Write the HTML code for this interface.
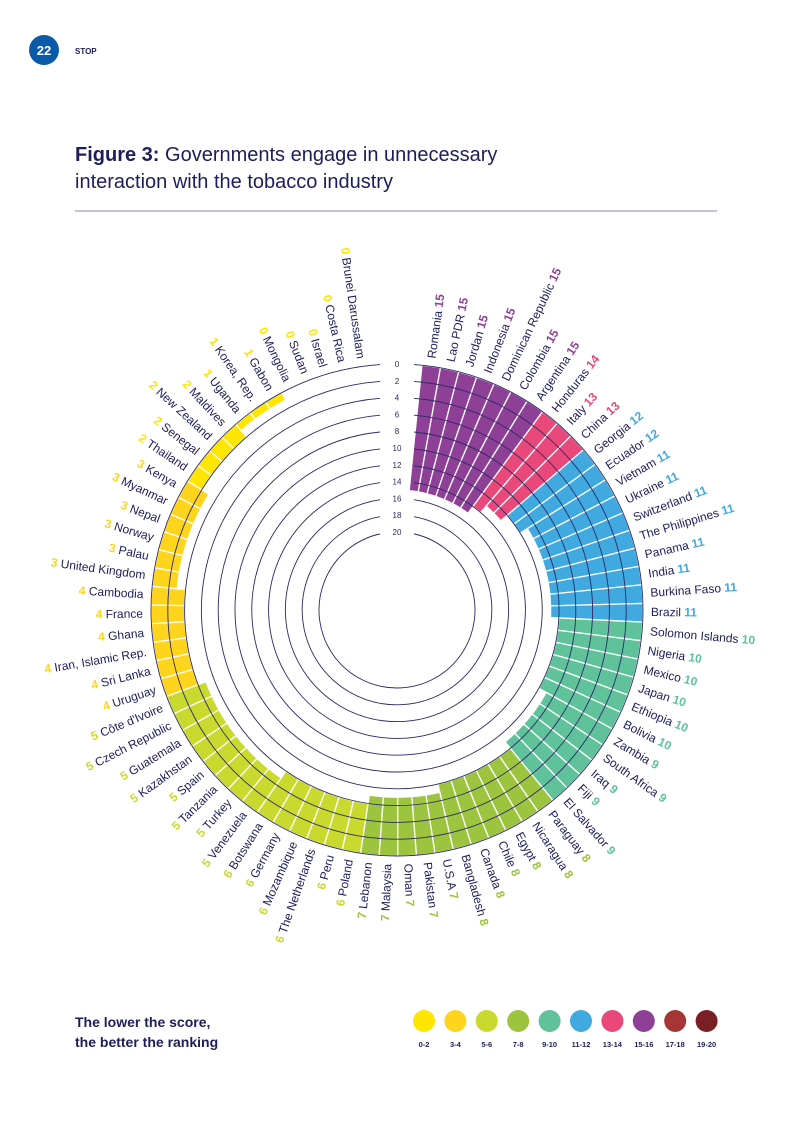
<!DOCTYPE html>
<html><head><meta charset="utf-8">
<style>
body{margin:0;background:#fff;}
svg{display:block;font-family:"Liberation Sans",sans-serif;}
</style></head>
<body>
<svg id="chart" width="793" height="1122" viewBox="0 0 793 1122">
<circle cx="44" cy="50" r="15" fill="#0b5aa8"/>
<text x="44" y="55" text-anchor="middle" fill="#fff" font-weight="bold" font-size="13">22</text>
<text x="75" y="54" fill="#1d1d5b" font-weight="bold" font-size="8">STOP</text>
<text x="75" y="161" fill="#1d1d5b" font-size="20"><tspan font-weight="bold">Figure 3:</tspan> Governments engage in unnecessary</text>
<text x="75" y="188" fill="#1d1d5b" font-size="20">interaction with the tobacco industry</text>
<line x1="75" y1="211" x2="717" y2="211" stroke="#8a88a8" stroke-width="1"/>
<g id="grid"></g><g id="bars"></g><g id="gridTop"></g><g id="labels"></g><g id="ticks"></g>
<text x="75" y="1027" fill="#1d1d5b" font-weight="bold" font-size="14">The lower the score,</text>
<text x="75" y="1047" fill="#1d1d5b" font-weight="bold" font-size="14">the better the ranking</text>
<g id="legend"></g>
</svg>
<script>
const countries=["Romania","Lao PDR","Jordan","Indonesia","Dominican Republic","Colombia","Argentina","Honduras","Italy","China","Georgia","Ecuador","Vietnam","Ukraine","Switzerland","The Philippines","Panama","India","Burkina Faso","Brazil","Solomon Islands","Nigeria","Mexico","Japan","Ethiopia","Bolivia","Zambia","South Africa","Iraq","Fiji","El Salvador","Paraguay","Nicaragua","Egypt","Chile","Canada","Bangladesh","U.S.A","Pakistan","Oman","Malaysia","Lebanon","Poland","Peru","The Netherlands","Mozambique","Germany","Botswana","Venezuela","Turkey","Tanzania","Spain","Kazakhstan","Guatemala","Czech Republic","Côte d'Ivoire","Uruguay","Sri Lanka","Iran, Islamic Rep.","Ghana","France","Cambodia","United Kingdom","Palau","Norway","Nepal","Myanmar","Kenya","Thailand","Senegal","New Zealand","Maldives","Uganda","Korea, Rep.","Gabon","Mongolia","Sudan","Israel","Costa Rica","Brunei Darussalam"];
const scores=[15,15,15,15,15,15,15,14,13,13,12,12,11,11,11,11,11,11,11,11,10,10,10,10,10,10,9,9,9,9,9,8,8,8,8,8,8,7,7,7,7,7,6,6,6,6,6,6,5,5,5,5,5,5,5,5,4,4,4,4,4,4,3,3,3,3,3,3,2,2,2,2,1,1,1,0,0,0,0,0];
const bandLabels=["0-2","3-4","5-6","7-8","9-10","11-12","13-14","15-16","17-18","19-20"];
const bandColors=["#ffe600","#ffd41c","#c9d92e","#9dc43e","#5fc29a","#3fa9e0","#e9487a","#8e3f96","#a83535","#7a2024"];
const tickValues=[0,2,4,6,8,10,12,14,16,18,20];
const NS="http://www.w3.org/2000/svg";
const cx=397,cy=610,R0=246,unit=8.4,start=8,step=4.35;
function rOf(v){return R0-v*unit;}
function aOf(i){return start+i*step;}
function pt(r,deg){const t=deg*Math.PI/180;return [cx+r*Math.sin(t),cy-r*Math.cos(t)];}
function band(v){return v<=2?0:Math.min(9,Math.floor((v-1)/2));}
function mk(tag,at,parent){const e=document.createElementNS(NS,tag);for(const k in at)e.setAttribute(k,at[k]);parent.appendChild(e);return e;}
const gBars=document.getElementById('bars'),gGrid=document.getElementById('gridTop'),gLab=document.getElementById('labels'),gTick=document.getElementById('ticks'),gLeg=document.getElementById('legend');
// bars
scores.forEach((v,i)=>{
 if(v<=0)return;
 const a1=aOf(i)-step/2,a2=aOf(i)+step/2,ro=R0,ri=rOf(v);
 const p1=pt(ro,a1),p2=pt(ro,a2),p3=pt(ri,a2),p4=pt(ri,a1);
 const d=`M${p1}A${ro},${ro} 0 0 1 ${p2}L${p3}A${ri},${ri} 0 0 0 ${p4}Z`;
 const e=mk('path',{d:d,fill:bandColors[band(v)],stroke:'#fff','stroke-width':1.3},gBars);
 
 
});
// grid arcs
tickValues.forEach(v=>{
 const r=rOf(v);const gapHalf=Math.asin(17/r)*180/Math.PI;
 const p1=pt(r,gapHalf),p2=pt(r,360-gapHalf);
 const e=mk('path',{d:`M${p1}A${r},${r} 0 1 1 ${p2}`,fill:'none',stroke:'#2a2a66','stroke-width':0.9},gGrid);
 
 
 const t=mk('text',{x:cx,y:cy-r+3,'text-anchor':'middle','font-size':8,fill:'#2a2a66'},gTick);
 t.textContent=v;
 
 
});
// labels
countries.forEach((c,i)=>{
 const a=aOf(i),v=scores[i],col=bandColors[band(v)];
 const right=i<40;
 const p=pt(R0+8,a);
 const t=mk('text',{x:p[0],y:p[1],'font-size':12,fill:'#1d1d5b','dominant-baseline':'middle',
  'text-anchor':right?'start':'end',transform:`rotate(${right?a-90:a+90} ${p[0]} ${p[1]})`},gLab);
 if(right){t.appendChild(document.createTextNode(c+' '));const s=mk('tspan',{fill:col,'font-weight':'bold'},t);s.textContent=v;}
 else{const s=mk('tspan',{fill:col,'font-weight':'bold'},t);s.textContent=v+' ';t.appendChild(document.createTextNode(c));}
 
 
});
// legend
bandLabels.forEach((l,i)=>{
 const x=424+i*31.4;
 const c=mk('circle',{cx:x,cy:1021,r:11,fill:bandColors[i]},gLeg);
 
 
 const t=mk('text',{x:x,y:1047,'text-anchor':'middle','font-size':7.5,'font-weight':'bold',fill:'#1d1d5b'},gLeg);
 t.textContent=l;
 
 
});
</script>
</body></html>
